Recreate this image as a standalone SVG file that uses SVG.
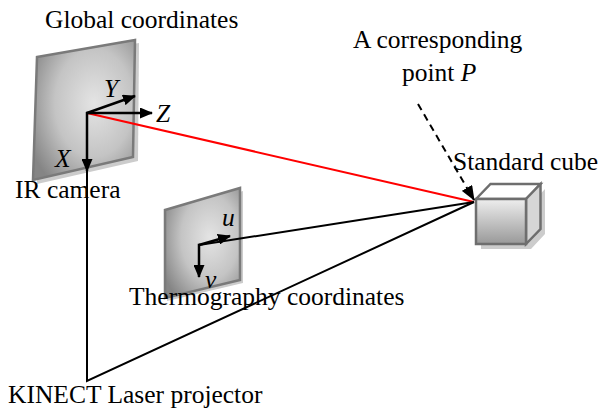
<svg xmlns="http://www.w3.org/2000/svg" width="602" height="415" viewBox="0 0 602 415">
  <style>
    .lbl { font-family: "Liberation Serif", "Times New Roman", serif; font-size: 25.5px; fill: #000; }
    .it { font-style: italic; }
    .panel { stroke: #7a7a7a; stroke-width: 2.5; stroke-linejoin: miter; }
    .shadow { fill: #cccccc; }
    .axis { stroke: #000; stroke-width: 2.5; fill: none; }
    .ray { stroke: #000; stroke-width: 2; fill: none; }
    .cube { stroke: #6e6e6e; stroke-width: 2.5; stroke-linejoin: miter; }
  </style>
  <defs>
    <radialGradient id="panelFill" cx="0.6" cy="0.45" r="0.7">
      <stop offset="0" stop-color="#e4e4e4"/>
      <stop offset="0.55" stop-color="#c4c4c4"/>
      <stop offset="1" stop-color="#858585"/>
    </radialGradient>
    <linearGradient id="frontFill" x1="0" y1="0" x2="0" y2="1">
      <stop offset="0" stop-color="#eeeeee"/>
      <stop offset="1" stop-color="#999999"/>
    </linearGradient>
    <!-- axis arrowhead, drawn in user units -->
    <marker id="head" viewBox="0 0 13 11" refX="12" refY="5.5" markerWidth="13" markerHeight="11" orient="auto" markerUnits="userSpaceOnUse">
      <path d="M0,0 L13,5.5 L0,11 Z" fill="#000"/>
    </marker>
    <marker id="headDash" viewBox="0 0 15 12" refX="14" refY="6" markerWidth="15" markerHeight="12" orient="auto" markerUnits="userSpaceOnUse">
      <path d="M0,0 L15,6 L0,12 Z" fill="#000"/>
    </marker>
  </defs>

  <!-- IR camera image plane -->
  <g id="ir-camera">
    <polygon class="shadow" points="39,60 139,43 138,161 37,184"/>
    <polygon class="panel" fill="url(#panelFill)" points="37,57 135,40 133,157 33,180"/>
    <text class="lbl" x="15" y="198">IR camera</text>
  </g>

  <!-- Thermography image plane -->
  <g id="thermography">
    <polygon class="shadow" points="168,213 243,191 243,283 167,301"/>
    <polygon class="panel" fill="url(#panelFill)" points="165,210 240,188 240,280 165,298"/>
    <text class="lbl" x="129" y="305">Thermography coordinates</text>
  </g>

  <!-- Standard cube -->
  <g id="standard-cube">
    <polygon class="shadow" points="481,204 531,204 545,189 545,234 531,249 481,249"/>
    <polygon class="cube" fill="#ffffff" points="476,199 490.5,184 540.5,184 526,199"/>
    <polygon class="cube" fill="#d6d6d6" points="526,199 540.5,184 540.5,229 526,244"/>
    <rect class="cube" fill="url(#frontFill)" x="476" y="199" width="50" height="45"/>
    <text class="lbl" x="453" y="170">Standard cube</text>
  </g>

  <!-- KINECT laser projector -->
  <g id="kinect">
    <text class="lbl" x="8" y="403">KINECT Laser projector</text>
  </g>

  <!-- Corresponding point label -->
  <g id="point-p">
    <text class="lbl" x="353" y="48">A corresponding</text>
    <text class="lbl" x="402" y="81">point <tspan class="it">P</tspan></text>
  </g>

  <!-- Global coordinates label -->
  <g id="global">
    <text class="lbl" x="45" y="28">Global coordinates</text>
  </g>

  <g id="connectors">
    <!-- rays to the corresponding point -->
    <line x1="87" y1="113" x2="474" y2="202" stroke="#ff0000" stroke-width="2"/>
    <line class="ray" x1="199" y1="245" x2="474" y2="202"/>
    <polyline class="ray" points="87,170 87,381 474,202"/>
    <line x1="418" y1="104" x2="474" y2="200" stroke="#000" stroke-width="2" stroke-dasharray="7,5" marker-end="url(#headDash)"/>

    <!-- global axes -->
    <line class="axis" x1="87" y1="113" x2="135" y2="96" marker-end="url(#head)"/>
    <line class="axis" x1="86" y1="113" x2="152" y2="113" marker-end="url(#head)"/>
    <line class="axis" x1="87" y1="112" x2="87" y2="171" marker-end="url(#head)"/>

    <!-- thermography axes -->
    <line class="axis" x1="199" y1="245" x2="230" y2="236" marker-end="url(#head)"/>
    <polyline class="axis" points="200,245 199,245 199,277" marker-end="url(#head)"/>
  </g>

  <!-- axis labels -->
  <g id="axis-labels">
    <text class="lbl it" x="104" y="97">Y</text>
    <text class="lbl it" x="156" y="122">Z</text>
    <text class="lbl it" x="55" y="167">X</text>
    <text class="lbl it" x="222" y="226">u</text>
    <text class="lbl it" x="205" y="288">v</text>
  </g>
</svg>
